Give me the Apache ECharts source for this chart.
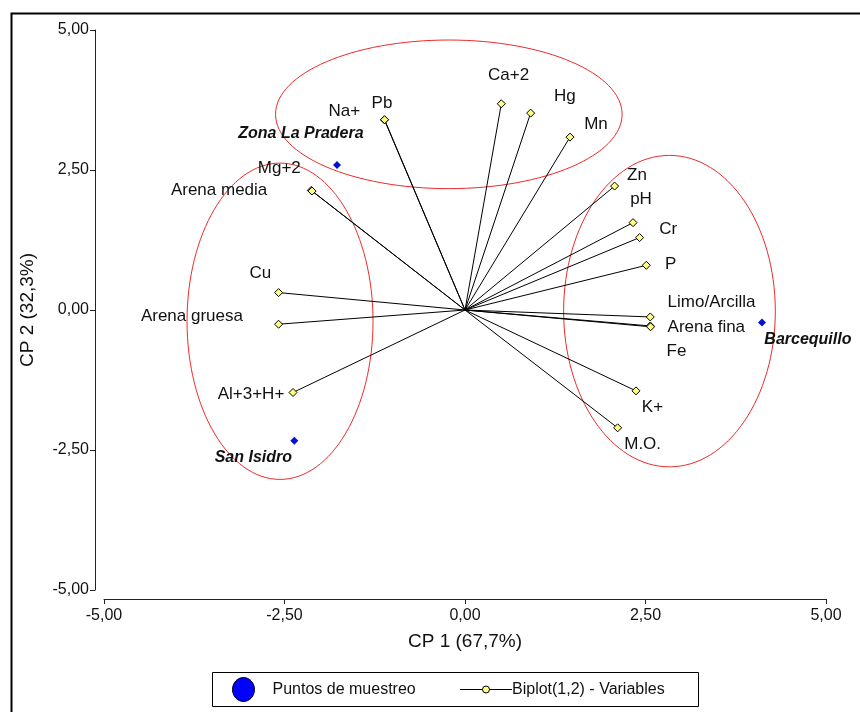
<!DOCTYPE html>
<html>
<head>
<meta charset="utf-8">
<script src="https://cdn.jsdelivr.net/npm/echarts@6/dist/echarts.min.js"></script>
<style>html,body{margin:0;padding:0;background:#fff;}#c{width:860px;height:712px;}</style>
</head>
<body>
<div id="c"></div>
<script>
// ---- data ----
const varNames = ['Na+','Pb','Ca+2','Hg','Mn','Mg+2','Arena media','Zn','pH','Cr','P','Limo/Arcilla','Arena fina','Fe','K+','M.O.','Cu','Arena gruesa','Al+3+H+'];
const varX = [-1.116,-1.114,0.503,0.909,1.454,-2.129,-2.118,2.072,2.327,2.418,2.511,2.566,2.566,2.57,2.368,2.114,-2.582,-2.582,-2.382];
const varY = [3.396,3.398,3.683,3.516,3.087,2.136,2.124,2.213,1.560,1.293,0.798,-0.124,-0.285,-0.30,-1.444,-2.104,0.311,-0.254,-1.473];

const siteNames = ['Zona La Pradera','Barcequillo','San Isidro'];
const siteX = [-1.773,4.114,-2.364];
const siteY = [2.588,-0.224,-2.336];

const ellCx = [-0.224,-2.562,2.832];
const ellCy = [3.494,-0.201,-0.020];
const ellRx = [2.40,1.288,1.466];
const ellRy = [1.327,2.824,2.781];

const tickValues = [-5,-2.5,0,2.5,5];
const tickLabels = ['-5,00','-2,50','0,00','2,50','5,00'];

// ---- label layout (pixels, relative to marker) ----
const labelLayout = {
  'Na+':['center',-40,-8.6],'Pb':['center',-2.6,-16],'Ca+2':['center',7.3,-28.3],
  'Hg':['center',34.2,-17.2],'Mn':['center',26,-13],'Mg+2':['center',-32,-22],
  'Arena media':['right',-44.8,-0.5],'Zn':['center',22.4,-10.7],'pH':['center',8,-23],
  'Cr':['center',28.7,-8.5],'P':['center',24.5,-0.8],'Limo/Arcilla':['left',17.3,-14.5],
  'Arena fina':['left',17.3,1.3],'Fe':['left',16,24.2],'K+':['center',16.5,16.8],
  'M.O.':['center',25,16.8],'Cu':['center',-18.3,-19],'Arena gruesa':['right',-35.6,-7.7],
  'Al+3+H+':['right',-8.7,1.4],
  'Zona La Pradera':['right',26.6,-31.7],'Barcequillo':['left',2.3,16.9],'San Isidro':['right',-2.3,16.3]
};

const FONT = 'Liberation Sans, Arial, sans-serif';
function fmtTick(v){
  const i = tickValues.indexOf(v);
  return i >= 0 ? tickLabels[i] : '';
}
function lbl(name, extra){
  const l = labelLayout[name];
  return Object.assign({
    show:true, position:'inside', formatter:'{b}', align:l[0], verticalAlign:'middle',
    offset:[l[1], l[2]], color:'#111', fontSize:17, fontFamily:FONT,
    textBorderWidth:0
  }, extra||{});
}

const chart = echarts.init(document.getElementById('c'), null, {renderer:'canvas'});
const axisCommon = {
  type:'value', min:-5, max:5, interval:2.5, offset:9,
  axisLine:{show:true, onZero:false, lineStyle:{color:'#222', width:1}},
  axisTick:{show:true, length:5, lineStyle:{color:'#222', width:1}},
  splitLine:{show:false},
  axisLabel:{formatter:fmtTick, fontSize:16, color:'#111', fontFamily:FONT},
  nameLocation:'middle',
  nameTextStyle:{fontSize:19, color:'#111', fontFamily:FONT}
};

chart.setOption({
  animation:false,
  backgroundColor:'#fff',
  grid:{left:104, right:34, top:30, bottom:122, containLabel:false},
  xAxis:Object.assign({}, axisCommon, {
    name:'CP 1 (67,7%)', nameGap:33,
    axisLabel:Object.assign({}, axisCommon.axisLabel, {margin:9})
  }),
  yAxis:Object.assign({}, axisCommon, {
    name:'CP 2 (32,3%)', nameGap:58,
    axisLabel:Object.assign({}, axisCommon.axisLabel, {margin:6})
  }),
  series:[
    {
      type:'custom', name:'ellipses', silent:true, clip:false, z:1,
      encode:{x:0, y:1},
      data: ellCx.map((x,i)=>[x, ellCy[i], ellRx[i], ellRy[i]]),
      renderItem:function(params, api){
        const c = api.coord([api.value(0), api.value(1)]);
        const s = api.size([api.value(2), api.value(3)]);
        return {type:'ellipse', shape:{cx:c[0], cy:c[1], rx:s[0], ry:s[1]},
          style:{fill:'none', stroke:'#ee2a2a', lineWidth:1}};
      }
    },
    {
      type:'lines', name:'Biplot(1,2) - Variables', coordinateSystem:'cartesian2d', silent:true, z:2,
      lineStyle:{color:'#000', width:1, opacity:1},
      data: varX.map((x,i)=>({coords:[[0,0],[x,varY[i]]]}))
    },
    {
      type:'scatter', name:'Variables', symbol:'diamond', symbolSize:8, z:3,
      itemStyle:{color:'#ffff80', borderColor:'#000', borderWidth:1, opacity:1},
      data: varX.map((x,i)=>({name:varNames[i], value:[x,varY[i]], label:lbl(varNames[i])}))
    },
    {
      type:'scatter', name:'Puntos de muestreo', symbol:'diamond', symbolSize:8, z:3,
      itemStyle:{color:'#0010d8', opacity:1},
      data: siteX.map((x,i)=>({name:siteNames[i], value:[x,siteY[i]],
        label:lbl(siteNames[i], {fontSize:16, fontWeight:'bold', fontStyle:'italic'})}))
    }
  ],
  graphic:[
    {type:'rect', left:9, top:11, shape:{x:0, y:0, width:900, height:800},
     style:{fill:'none', stroke:'#000', lineWidth:2}, silent:true, z:-1},
    {type:'group', left:212, top:672, silent:true, children:[
      {type:'rect', shape:{x:0.5, y:0.5, width:486, height:34}, style:{fill:'#fff', stroke:'#000', lineWidth:1}},
      {type:'ellipse', shape:{cx:31.5, cy:17.5, rx:11, ry:12}, style:{fill:'#0000ff', stroke:'#000020', lineWidth:1}},
      {type:'text', x:60.5, y:17.5, style:{text:'Puntos de muestreo', fill:'#111', fontSize:16, fontFamily:FONT, verticalAlign:'middle', align:'left'}},
      {type:'line', shape:{x1:248, y1:17.5, x2:300, y2:17.5}, style:{stroke:'#000', lineWidth:1}},
      {type:'circle', shape:{cx:274, cy:17.5, r:3.5}, style:{fill:'#ffff80', stroke:'#000', lineWidth:1}},
      {type:'text', x:300, y:17.5, style:{text:'Biplot(1,2) - Variables', fill:'#111', fontSize:16, fontFamily:FONT, verticalAlign:'middle', align:'left'}}
    ]}
  ]
});
</script>
</body>
</html>
